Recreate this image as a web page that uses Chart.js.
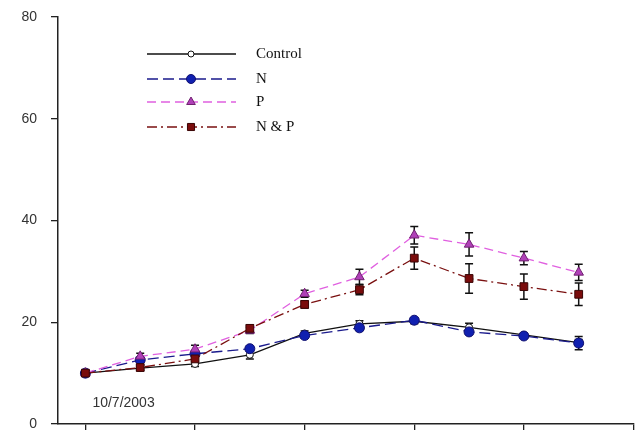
<!DOCTYPE html>
<html>
<head>
<meta charset="utf-8">
<script src="https://cdn.jsdelivr.net/npm/chart.js@4/dist/chart.umd.min.js"></script>
<style>
  html, body { margin: 0; padding: 0; background: #fff; }
  #wrap { width: 640px; height: 435px; }
</style>
</head>
<body>
<div id="wrap"><canvas id="c" width="640" height="435"></canvas></div>
<script>
// Sampling occasions (x positions) and treatment means with error bars
const samples = [0, 1, 2, 3, 4, 5, 6, 7, 8, 9];
const controlVals = [10, 11.0, 11.8, 13.6, 17.8, 19.7, 20.2, 19.0, 17.5, 16.0];
const nVals       = [10, 12.6, 13.8, 14.8, 17.4, 18.9, 20.4, 18.1, 17.3, 15.9];
const pVals       = [10, 13.3, 14.7, 18.4, 25.6, 28.9, 37.1, 35.3, 32.6, 29.8];
const npVals      = [10, 11.1, 12.8, 18.8, 23.5, 26.4, 32.6, 28.6, 27.0, 25.5];
const controlErr = [0.3, 0.4, 0.5, 0.8, 0.5, 0.6, 0.5, 0.8, 0.4, 0.6];
const nErr       = [0.3, 0.4, 0.4, 0.5, 0.5, 0.5, 0.5, 0.5, 0.4, 1.3];
const pErr       = [0.5, 0.6, 0.8, 0.6, 0.7, 1.5, 1.7, 2.3, 1.3, 1.6];
const npErr      = [0.5, 0.6, 0.8, 0.7, 0.7, 1.0, 2.2, 2.9, 2.5, 2.2];
const seriesNames = ['Control', 'N', 'P', 'N & P'];
const yTicks = [0, 20, 40, 60, 80];
const xTicks = [0, 2, 4, 6, 8, 10];
const startDate = '10/7/2003';

const pts = vals => vals.map((v, i) => ({ x: samples[i], y: v }));

const datasets = [
  { label: seriesNames[0], data: pts(controlVals), err: controlErr,
    borderColor: '#111', borderWidth: 1.3, borderDash: [],
    pointStyle: 'circle', pointRadius: 3.5, pointBackgroundColor: '#fff',
    pointBorderColor: '#111', pointBorderWidth: 1, order: 4 },
  { label: seriesNames[1], data: pts(nVals), err: nErr,
    borderColor: '#1a1a8c', borderWidth: 1.3, borderDash: [11, 5],
    pointStyle: 'circle', pointRadius: 5, pointBackgroundColor: '#1020b0',
    pointBorderColor: '#101070', pointBorderWidth: 1, order: 3 },
  { label: seriesNames[2], data: pts(pVals), err: pErr,
    borderColor: '#e060e0', borderWidth: 1.3, borderDash: [9, 5],
    pointStyle: 'triangle', pointRadius: 5.5, pointBackgroundColor: '#b040b8',
    pointBorderColor: '#702070', pointBorderWidth: 1, order: 2 },
  { label: seriesNames[3], data: pts(npVals), err: npErr,
    borderColor: '#7a1010', borderWidth: 1.3, borderDash: [10, 4, 2, 4],
    pointStyle: 'rect', pointRadius: 5.5, pointBackgroundColor: '#7a0c0c',
    pointBorderColor: '#3a0505', pointBorderWidth: 1, order: 1 }
];
datasets.forEach(d => { d.fill = false; d.tension = 0; d.pointHoverRadius = d.pointRadius; });

// Vertical error bars with caps, drawn under the markers
const errorBars = {
  id: 'errorBars',
  beforeDatasetsDraw(chart) {
    const { ctx, scales: { x, y } } = chart;
    ctx.save();
    ctx.strokeStyle = '#111';
    ctx.lineWidth = 1.5;
    chart.data.datasets.forEach(ds => {
      ds.data.forEach((p, i) => {
        const e = ds.err[i];
        const px = x.getPixelForValue(p.x);
        const top = y.getPixelForValue(p.y + e);
        const bot = y.getPixelForValue(p.y - e);
        ctx.beginPath();
        ctx.moveTo(px, top); ctx.lineTo(px, bot);
        ctx.moveTo(px - 4, top); ctx.lineTo(px + 4, top);
        ctx.moveTo(px - 4, bot); ctx.lineTo(px + 4, bot);
        ctx.stroke();
      });
    });
    ctx.restore();
  }
};

// Legend: line sample with centred marker, then serif label
const lineLegend = {
  id: 'lineLegend',
  afterDraw(chart) {
    const ctx = chart.ctx;
    const x0 = 147, x1 = 236, xm = 191, tx = 256;
    const rows = [54, 79, 102, 127];
    ctx.save();
    chart.data.datasets.forEach((ds, i) => {
      const yy = rows[i];
      ctx.strokeStyle = ds.borderColor;
      ctx.lineWidth = ds.borderWidth;
      ctx.setLineDash(ds.borderDash);
      ctx.beginPath(); ctx.moveTo(x0, yy); ctx.lineTo(x1, yy); ctx.stroke();
      ctx.setLineDash([]);
      ctx.fillStyle = ds.pointBackgroundColor;
      ctx.strokeStyle = ds.pointBorderColor;
      ctx.lineWidth = ds.pointBorderWidth;
      Chart.helpers.drawPoint(ctx, {
        pointStyle: ds.pointStyle, radius: ds.pointRadius - 0.5, rotation: 0,
        borderWidth: ds.pointBorderWidth
      }, xm, yy);
      ctx.fillStyle = '#111';
      ctx.font = '15px "Liberation Serif", "DejaVu Serif", serif';
      ctx.textBaseline = 'middle';
      ctx.textAlign = 'left';
      ctx.fillText(ds.label, tx, yy);
    });
    // start date note
    const { x, y } = chart.scales;
    ctx.fillStyle = '#333';
    ctx.font = '14px "Liberation Sans", Arial, sans-serif';
    ctx.textBaseline = 'middle';
    ctx.fillText(startDate, x.getPixelForValue(0) + 7, y.getPixelForValue(4.1));
    ctx.restore();
  }
};

new Chart(document.getElementById('c'), {
  type: 'line',
  data: { datasets },
  plugins: [errorBars, lineLegend],
  options: {
    responsive: false,
    animation: false,
    events: [],
    layout: { padding: { left: 0, right: 1, top: 17, bottom: 0 } },
    plugins: { legend: { display: false }, tooltip: { enabled: false } },
    scales: {
      x: {
        type: 'linear', min: -0.5, max: 10,
        afterBuildTicks: s => { s.ticks = xTicks.map(v => ({ value: v })); },
        afterFit: s => { s.height = 11; s.paddingLeft = 0; s.paddingRight = 0; },
        ticks: { display: false },
        grid: { drawOnChartArea: false, drawTicks: true, tickLength: 6, color: '#222', lineWidth: 1.3 },
        border: { color: '#222', width: 1.5 }
      },
      y: {
        type: 'linear', min: 0, max: 80,
        afterBuildTicks: s => { s.ticks = yTicks.map(v => ({ value: v })); },
        afterFit: s => { s.width = 58; s.paddingTop = 0; s.paddingBottom = 0; },
        ticks: {
          color: '#333', padding: 14,
          font: { family: '"Liberation Sans", Arial, sans-serif', size: 14 }
        },
        grid: { drawOnChartArea: false, drawTicks: true, tickLength: 7, color: '#222', lineWidth: 1.3 },
        border: { color: '#222', width: 1.5 }
      }
    }
  }
});
</script>
</body>
</html>
